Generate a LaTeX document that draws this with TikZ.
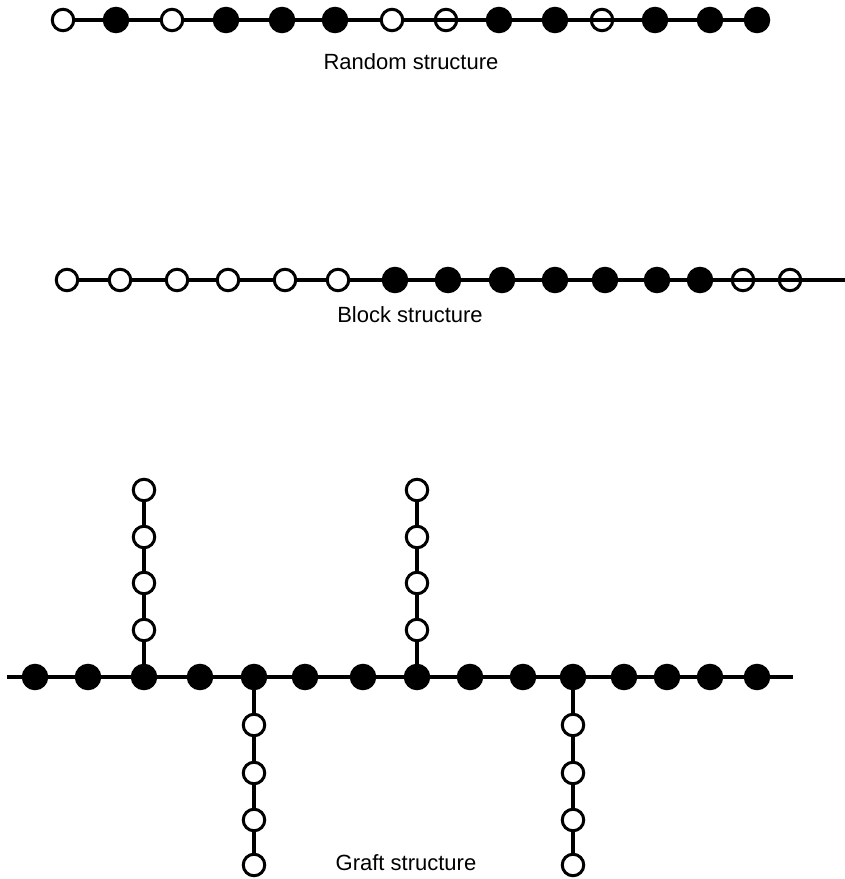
\documentclass[tikz,border=0pt]{standalone}
\usepackage{fontspec}
\setmainfont{Liberation Sans}
\usetikzlibrary{backgrounds}
\begin{document}
\begin{tikzpicture}[x=1pt,y=-1pt,
  bead/.style={circle,draw=black,line width=3pt,inner sep=0pt},
  ob/.style={bead,fill=white,minimum size=21.5pt},
  hb/.style={bead,minimum size=21.5pt},
  fb/.style={bead,fill=black,minimum size=23.5pt},
  bond/.style={line width=3.2pt},
  caption/.style={font=\fontsize{22}{26}\selectfont,inner sep=0pt}]
\useasboundingbox (0,0) rectangle (845,879);
% Random structure
\foreach \x/\s [count=\i] in {63/ob,116/fb,172/ob,226/fb,282/fb,335/fb,392/ob,446/hb,499/fb,555/fb,602/hb,655/fb,710/fb,757/fb}
  \node[\s] (r\i) at (\x,20) {};
\node[caption] (rcap) at (411,62) {Random structure};
% Block structure
\foreach \x/\s [count=\i] in {67/ob,120/ob,177/ob,228/ob,285/ob,338/ob,395/fb,448/fb,502/fb,555/fb,605/fb,657/fb,700/fb,743/hb,790/hb}
  \node[\s] (b\i) at (\x,280) {};
\coordinate (bend) at (845,280);
\node[caption] (bcap) at (410,315) {Block structure};
% Graft structure
\coordinate (gstart) at (7,677);
\coordinate (gend) at (793,677);
\foreach \x [count=\i] in {35,88,144,200,254,305,363,417,470,523,573,624,667,710,757}
  \node[fb] (g\i) at (\x,677) {};
\foreach \y [count=\i] in {630,583,537,490} {
  \node[ob] (ua\i) at (144,\y) {};
  \node[ob] (ub\i) at (417,\y) {};
}
\foreach \y [count=\i] in {725,773,820,865} {
  \node[ob] (da\i) at (254,\y) {};
  \node[ob] (db\i) at (573,\y) {};
}
\node[caption] (gcap) at (406,863) {Graft structure};
\begin{pgfonlayer}{background}
  \foreach \i [evaluate=\i as \j using int(\i+1)] in {1,...,13}
    \draw[bond] (r\i.center) -- (r\j.center);
  \foreach \i [evaluate=\i as \j using int(\i+1)] in {1,...,14}
    \draw[bond] (b\i.center) -- (b\j.center);
  \draw[bond] (b15.center) -- (bend);
  \draw[bond] (gstart) -- (g1.center);
  \foreach \i [evaluate=\i as \j using int(\i+1)] in {1,...,14}
    \draw[bond] (g\i.center) -- (g\j.center);
  \draw[bond] (g15.center) -- (gend);
  \draw[bond] (g3.center) -- (ua1.center);
  \draw[bond] (g8.center) -- (ub1.center);
  \draw[bond] (g5.center) -- (da1.center);
  \draw[bond] (g11.center) -- (db1.center);
  \foreach \i [evaluate=\i as \j using int(\i+1)] in {1,2,3} {
    \draw[bond] (ua\i.center) -- (ua\j.center);
    \draw[bond] (ub\i.center) -- (ub\j.center);
    \draw[bond] (da\i.center) -- (da\j.center);
    \draw[bond] (db\i.center) -- (db\j.center);
  }
\end{pgfonlayer}
\end{tikzpicture}
\end{document}
